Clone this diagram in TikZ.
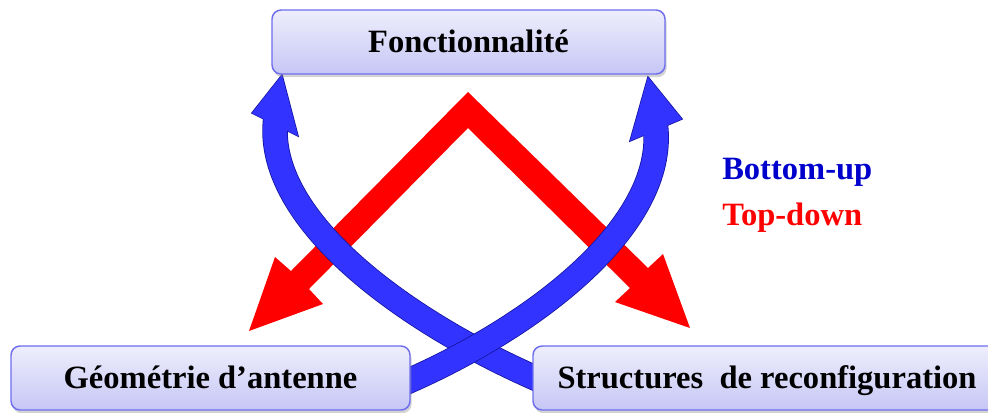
\documentclass[tikz,border=0pt]{standalone}
\usepackage{fontspec}
\setmainfont{Liberation Serif}
\usetikzlibrary{calc,shapes,backgrounds,arrows,positioning,shadows}
\definecolor{boxtop}{HTML}{EEEEFC}
\definecolor{boxbot}{HTML}{C6C6F6}
\definecolor{boxline}{HTML}{6E6EEE}
\definecolor{bupfill}{HTML}{3333FF}
\definecolor{bupedge}{HTML}{1414A0}
\definecolor{bupword}{HTML}{0000CC}
\tikzset{
  level/.style={draw=boxline, line width=1.1pt, rounded corners=6.75pt,
    top color=boxtop, bottom color=boxbot, minimum height=48pt, inner sep=0pt,
    font=\fontsize{24.4}{29}\selectfont\bfseries, text height=16.1pt, text depth=0pt,
    drop shadow={shadow xshift=1.2pt, shadow yshift=-2.4pt, opacity=0.35}},
  bandedge/.style={draw=bupedge, line width=19.1pt},
  bandfill/.style={draw=bupfill, line width=17.9pt},
  legend/.style={anchor=base west, inner sep=0pt, font=\fontsize{24.4}{29}\selectfont\bfseries}
}

\begin{document}
\begin{tikzpicture}[x=0.75pt, y=-0.75pt]
 \useasboundingbox (0,0) rectangle (988,412);
 \node[level, minimum width=294.75pt] (fonc) at (468.5,42) {Fonctionnalité};
 \node[level, minimum width=299.25pt] (geo) at (210.5,378) {Géométrie d’antenne};
 \node[level, minimum width=351pt] (struct) at (767,378) {Structures\hspace{0.5em}de reconfiguration};
 \node[legend, text=bupword] (bup) at (722,179) {Bottom-up};
 \node[legend, text=red] (tdown) at (722,225) {Top-down};

 \begin{scope}[on background layer]
 % top-down
 \fill[red] (249,331) -- (275,257) -- (291,271) -- (468,92) -- (648,268) -- (663,254)
   -- (690,328) -- (615,302) -- (630,288) -- (468,128) -- (309,289) -- (323,304) -- cycle;
 % bottom-up
 \coordinate (endL) at (276,117);
 \coordinate (endR) at (655,122);
 \draw[bandedge] ([xshift=9pt,yshift=-3pt]struct.west) .. controls (400,320) and (262,216) .. (endL);
 \filldraw[draw=bupedge, fill=bupedge, line width=1.1pt] (282,75) -- (252,113) -- (298,136) -- cycle;
 \draw[bandfill] ([xshift=9pt,yshift=-3pt]struct.west) .. controls (400,320) and (262,216) .. (endL);
 \fill[bupfill] (282,75) -- (252,113) -- (298,136) -- cycle;
 \draw[bandedge] ([xshift=-9pt,yshift=-5.5pt]geo.east) .. controls (540,325) and (670,221) .. (endR);
 \filldraw[draw=bupedge, fill=bupedge, line width=1.1pt] (648,77) -- (682,119) -- (630,141) -- cycle;
 \draw[bandfill] ([xshift=-9pt,yshift=-5.5pt]geo.east) .. controls (540,325) and (670,221) .. (endR);
 \fill[bupfill] (648,77) -- (682,119) -- (630,141) -- cycle;
 \end{scope}
\end{tikzpicture}
\end{document}
